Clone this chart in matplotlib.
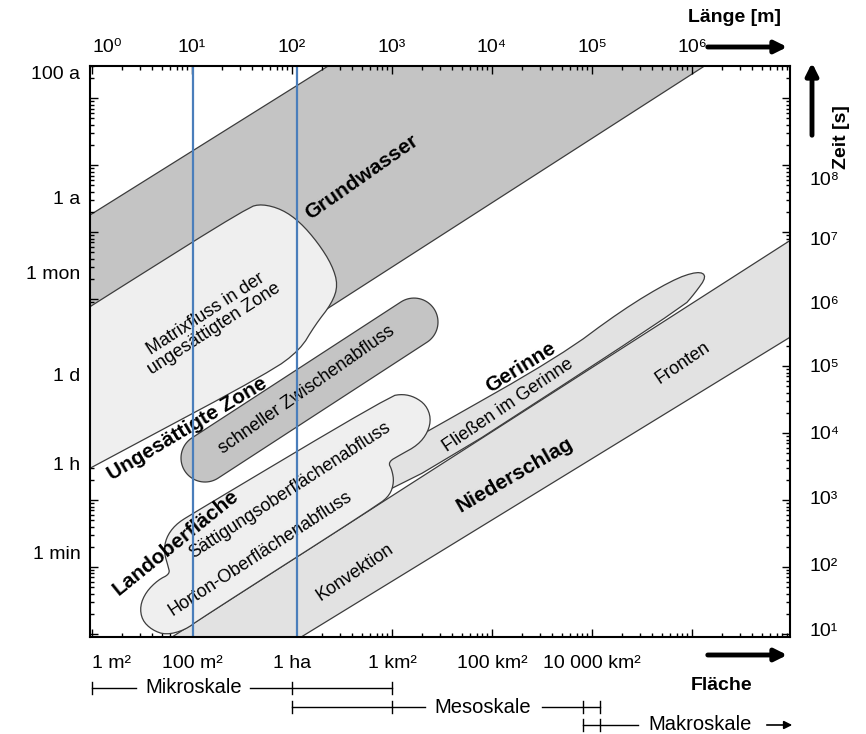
import numpy as np
import matplotlib.pyplot as plt
from matplotlib.patches import Polygon, FancyArrowPatch
from matplotlib.ticker import LogLocator, NullFormatter
from matplotlib.transforms import blended_transform_factory

plt.rcParams['font.family'] = ['Liberation Sans', 'DejaVu Sans']
plt.rcParams['font.size'] = 14

# all coordinates below in log10 units: x = log10(Laenge in m), y = log10(Zeit in s)
xlim_log = (-0.02, 6.98)
ylim_log = (0.955, 9.48)

len_ticks = [0, 1, 2, 3, 4, 5, 6]
len_labels = ['10⁰', '10¹', '10²', '10³', '10⁴', '10⁵', '10⁶']
area_ticks = [0, 1, 2, 3, 4, 5]
area_labels = ['1 m²', '100 m²', '1 ha', '1 km²', '100 km²', '10 000 km²']
sec_ticks = [1, 2, 3, 4, 5, 6, 7, 8, 9]
sec_label_pos = [1.06, 2.03, 3.045, 4.015, 5.015, 5.955, 6.91, 7.806]
sec_labels = ['10¹', '10²', '10³', '10⁴', '10⁵', '10⁶', '10⁷', '10⁸']
time_names = ['100 a', '1 a', '1 mon', '1 d', '1 h', '1 min']
time_pos = [9.39, 7.51, 6.40, 4.87, 3.55, 2.21]

# process regions
gw_x = [-0.1, 2.49, 6.25, -0.1]
gw_y = [7.18, 9.6, 9.6, 3.5]

matrix_x = [-0.5, -0.3, 0.3, 1.56, 1.70, 1.90, 2.08, 2.26, 2.40, 2.46, 2.40, 2.23, 2.08, 1.78, 0.3, -0.3, -0.5]
matrix_y = [5.43, 5.62, 6.19, 7.37, 7.42, 7.34, 7.15, 6.84, 6.51, 6.21, 5.94, 5.61, 5.24, 4.91, 3.73, 3.25, 3.10]

nieder_x = [0.38, 7.08, 7.08, 1.88]
nieder_y = [0.552, 6.97, 5.522, 0.761]

gerinne_x = [2.70, 3.38, 4.68, 5.30, 5.80, 6.06, 6.15, 6.03, 5.90, 2.70]
gerinne_y = [3.48, 4.045, 5.149, 5.836, 6.284, 6.418, 6.343, 6.090, 5.866, 2.776]

schnell_c0 = (1.13, 3.627)
schnell_c1 = (3.22, 5.657)
schnell_r = 0.24

land_x = [2.86, 2.98, 3.02, 3.00, 2.96, 3.08, 3.26, 3.36, 3.39, 3.34, 3.23, 3.11, 2.98,
          0.98, 0.83, 0.74, 0.72, 0.76, 0.78, 0.66, 0.54, 0.48, 0.50, 0.60, 0.74, 0.93, 1.08]
land_y = [2.925, 3.075, 3.269, 3.448, 3.567, 3.672, 3.821, 4.015, 4.224, 4.418, 4.537, 4.582, 4.552,
          2.776, 2.627, 2.433, 2.224, 2.015, 1.896, 1.806, 1.627, 1.418, 1.209, 1.060, 0.985, 1.060, 1.224]

blue_x = [1.01, 2.05]

proc_labels = ['Grundwasser', 'Matrixfluss in der\nungesättigten Zone', 'Ungesättigte Zone',
               'schneller Zwischenabfluss', 'Landoberfläche', 'Sättigungsoberflächenabfluss',
               'Horton-Oberflächenabfluss', 'Gerinne', 'Fließen im Gerinne', 'Niederschlag',
               'Konvektion', 'Fronten']
proc_x = [2.70, 1.18, 0.95, 2.15, 0.84, 1.98, 1.68, 4.29, 4.16, 4.23, 2.63, 5.91]
proc_y = [7.82, 5.67, 4.06, 4.642, 2.36, 3.149, 2.20, 4.985, 4.418, 3.373, 1.92, 5.045]
proc_rot = [35, 33, 31, 35, 39, 33, 33, 32, 34, 30, 34, 34]
proc_bold = [True, False, True, False, True, False, False, True, False, True, False, False]

scale_names = ['Mikroskale', 'Mesoskale', 'Makroskale']
scale_text_x = [1.02, 3.91, 6.08]
scale_ticks = [[0, 2, 3], [2, 3, 4.91, 5.08], [4.91, 5.08]]
scale_lines = [[(0, 0.44), (1.58, 3)], [(2, 3.33), (4.5, 5.08)], [(4.91, 5.46)]]
scale_rows = [-0.0893, -0.1226, -0.1541]


def lin(v):
    return 10 ** np.asarray(v, dtype=float)


def chaikin(xs, ys, n=2):
    p = np.column_stack([xs, ys]).astype(float)
    for _ in range(n):
        q = np.roll(p, -1, axis=0)
        p = np.column_stack([0.75 * p + 0.25 * q, 0.25 * p + 0.75 * q]).reshape(-1, 2)
    return p[:, 0], p[:, 1]


def capsule(c0, c1, r, k=0.67, n=40):
    # stadium shape, built with equal pixel scaling in x and y
    x0, y0 = c0[0], c0[1] * k
    x1, y1 = c1[0], c1[1] * k
    a = np.arctan2(y1 - y0, x1 - x0)
    t1 = np.linspace(a - np.pi / 2, a + np.pi / 2, n)
    t0 = np.linspace(a + np.pi / 2, a + 3 * np.pi / 2, n)
    xs = np.r_[x1 + r * np.cos(t1), x0 + r * np.cos(t0)]
    ys = np.r_[y1 + r * np.sin(t1), y0 + r * np.sin(t0)] / k
    return xs, ys


def add_shape(ax, xs, ys, fc, z):
    ax.add_patch(Polygon(np.column_stack([lin(xs), lin(ys)]), closed=True,
                         fc=fc, ec='#3c3c3c', lw=0.9, zorder=z))


fig = plt.figure(figsize=(8.66, 7.34), dpi=100)
ax = fig.add_axes([90 / 866, 1 - 637 / 734, 700 / 866, 571 / 734])
ax.set_xscale('log')
ax.set_yscale('log')
ax.set_xlim(lin(xlim_log))
ax.set_ylim(lin(ylim_log))

add_shape(ax, gw_x, gw_y, '#c4c4c4', 1)
mx, my = chaikin(matrix_x, matrix_y, 2)
add_shape(ax, mx, my, '#efefef', 2)
add_shape(ax, nieder_x, nieder_y, '#e2e2e2', 2)
gx, gy = chaikin(gerinne_x, gerinne_y, 2)
add_shape(ax, gx, gy, '#e2e2e2', 3)
sx, sy = capsule(schnell_c0, schnell_c1, schnell_r)
add_shape(ax, sx, sy, '#c4c4c4', 3)
lx, ly = chaikin(land_x, land_y, 2)
add_shape(ax, lx, ly, '#efefef', 4)

for txt, x, y, r, b in zip(proc_labels, proc_x, proc_y, proc_rot, proc_bold):
    ax.text(lin(x), lin(y), txt, rotation=r, rotation_mode='anchor', ha='center', va='center',
            fontsize=15 if b else 13, fontweight='bold' if b else 'normal',
            linespacing=1.0, zorder=6)

for bx in blue_x:
    ax.axvline(lin(bx), color='#4a7ebb', lw=1.6, zorder=7)

# axis frame and ticks
for s in ax.spines.values():
    s.set_linewidth(1.5)
    s.set_zorder(8)
ax.xaxis.set_minor_locator(LogLocator(base=10, subs=np.arange(2, 10), numticks=100))
ax.yaxis.set_minor_locator(LogLocator(base=10, subs=np.arange(2, 10), numticks=100))
ax.xaxis.set_minor_formatter(NullFormatter())
ax.yaxis.set_minor_formatter(NullFormatter())
ax.set_xticks(lin(len_ticks), len_labels)
ax.set_yticks(lin(sec_ticks))
ax.tick_params(which='both', direction='in', top=True, right=True, bottom=True, left=True,
               labelbottom=False, labelleft=False, labeltop=True, labelright=False, width=1)
ax.tick_params(which='major', length=6)
ax.tick_params(which='minor', length=3)
ax.tick_params(axis='x', pad=7)
ax.xaxis.get_major_ticks()[0].label2.set_horizontalalignment('left')

sec_b = ax.secondary_xaxis('bottom')
sec_b.set_xticks(lin(area_ticks), area_labels)
sec_b.xaxis.set_minor_formatter(NullFormatter())
sec_b.tick_params(which='both', length=0, pad=13)
sec_b.spines['bottom'].set_visible(False)
sec_b.xaxis.get_major_ticks()[0].label1.set_horizontalalignment('left')

sec_l = ax.secondary_yaxis('left')
sec_l.set_yticks(lin(time_pos), time_names)
sec_l.yaxis.set_minor_formatter(NullFormatter())
sec_l.tick_params(which='both', length=0, pad=7)
sec_l.spines['left'].set_visible(False)

sec_r = ax.secondary_yaxis('right')
sec_r.set_yticks(lin(sec_label_pos), sec_labels)
sec_r.yaxis.set_minor_formatter(NullFormatter())
sec_r.tick_params(which='both', length=0, pad=14)
sec_r.spines['right'].set_visible(False)

# scale bars below the axis
trans = blended_transform_factory(ax.transData, ax.transAxes)
for name, tx, ticks, segs, yr in zip(scale_names, scale_text_x, scale_ticks, scale_lines, scale_rows):
    ax.text(lin(tx), yr, name, transform=trans, ha='center', va='center', fontsize=14.5, clip_on=False)
    for a, b in segs:
        ax.plot(lin([a, b]), [yr, yr], color='k', lw=1, transform=trans, clip_on=False)
    for t in ticks:
        ax.plot(lin([t, t]), [yr - 0.011, yr + 0.011], color='k', lw=1, transform=trans, clip_on=False)
ax.annotate('', xy=(lin(7.03), scale_rows[2]), xytext=(lin(6.72), scale_rows[2]),
            xycoords=trans, textcoords=trans,
            arrowprops=dict(arrowstyle='-|>', lw=1.2, color='k', mutation_scale=12))

# axis titles with arrows
fig.text(735 / 866, 1 - 17 / 734, 'Länge [m]', ha='center', va='center', fontsize=14, fontweight='bold')
fig.text(722 / 866, 1 - 685 / 734, 'Fläche', ha='center', va='center', fontsize=14, fontweight='bold')
fig.text(841 / 866, 1 - 137 / 734, 'Zeit [s]', ha='center', va='center', fontsize=14,
         fontweight='bold', rotation=90)
big = dict(arrowstyle='-|>', lw=3.5, color='k', mutation_scale=18)
for p0, p1 in [((705, 47), (790, 47)), ((705, 655), (790, 655)), ((812, 138), (812, 60))]:
    fig.add_artist(FancyArrowPatch((p0[0] / 866, 1 - p0[1] / 734), (p1[0] / 866, 1 - p1[1] / 734),
                                   transform=fig.transFigure, **big))

fig.savefig('out.png', dpi=100)
